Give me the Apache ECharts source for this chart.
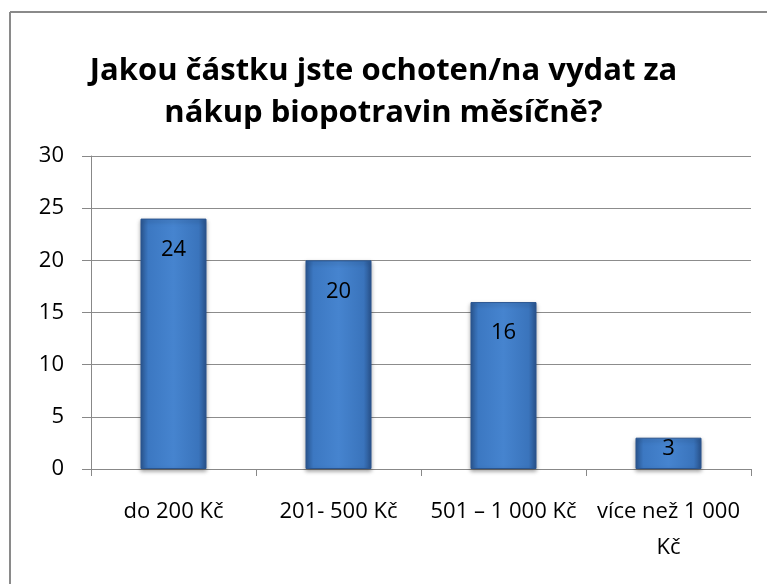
<!DOCTYPE html>
<html>
<head>
<meta charset="utf-8">
<script src="https://cdn.jsdelivr.net/npm/echarts@6/dist/echarts.min.js"></script>
<style>
  html, body { margin: 0; padding: 0; background: #fff; }
  #main { width: 767px; height: 584px; }
</style>
</head>
<body>
<div id="main"></div>
<script>
// data
const categories = ['do 200 Kč', '201- 500 Kč', '501 – 1 000 Kč', 'více než 1 000\nKč'];
const values = [24, 20, 16, 3];
const yTicks = [0, 5, 10, 15, 20, 25, 30];

const chart = echarts.init(document.getElementById('main'));
const font = '"Open Sans", Lato, sans-serif';

// bevelled blue bar look
const barColor = new echarts.graphic.LinearGradient(0, 0, 1, 0, [
    { offset: 0, color: '#2b5894' },
    { offset: 0.12, color: '#3c78c2' },
    { offset: 0.5, color: '#4684cf' },
    { offset: 0.88, color: '#3a74bc' },
    { offset: 1, color: '#2a5590' }
]);

const option = {
    backgroundColor: '#fff',
    animation: false,
    title: {
        text: 'Jakou částku jste ochoten/na vydat za\nnákup biopotravin měsíčně?',
        left: 'center',
        top: 45,
        textStyle: {
            fontFamily: font,
            fontSize: 31,
            fontWeight: 'bold',
            lineHeight: 42,
            color: '#000'
        }
    },
    graphic: [
        { type: 'line', shape: { x1: 10, y1: 12, x2: 767, y2: 12 }, style: { stroke: '#8a8a8a', lineWidth: 2 } },
        { type: 'line', shape: { x1: 10, y1: 12, x2: 10, y2: 584 }, style: { stroke: '#8a8a8a', lineWidth: 2 } }
    ],
    grid: {
        left: 91,
        right: 16,
        top: 156,
        bottom: 115
    },
    xAxis: {
        type: 'category',
        data: categories,
        axisLine: { lineStyle: { color: '#888', width: 1 } },
        axisTick: { show: true, length: 7, alignWithLabel: false, lineStyle: { color: '#888' } },
        axisLabel: {
            interval: 0,
            margin: 25,
            fontFamily: font,
            fontSize: 22,
            lineHeight: 36,
            color: '#000'
        }
    },
    yAxis: {
        type: 'value',
        min: yTicks[0],
        max: yTicks[yTicks.length - 1],
        interval: yTicks[1] - yTicks[0],
        axisLine: { show: true, lineStyle: { color: '#888', width: 1 } },
        axisTick: { show: true, length: 9, lineStyle: { color: '#888' } },
        splitLine: { lineStyle: { color: '#8c8c8c', width: 1 } },
        axisLabel: {
            margin: 27,
            fontFamily: font,
            fontSize: 22,
            color: '#000'
        }
    },
    series: [
        {
            type: 'bar',
            barWidth: 66,
            data: values.map(v => v < 5
                ? { value: v, label: { distance: 0 } }
                : v),
            itemStyle: {
                color: barColor,
                borderColor: '#2a558f',
                borderWidth: 1,
                shadowColor: 'rgba(0,0,0,0.35)',
                shadowBlur: 4,
                shadowOffsetY: 2
            },
            label: {
                show: true,
                position: 'insideTop',
                distance: 20,
                fontFamily: font,
                fontSize: 22,
                color: '#000'
            }
        }
    ]
};

chart.setOption(option);
</script>
</body>
</html>
